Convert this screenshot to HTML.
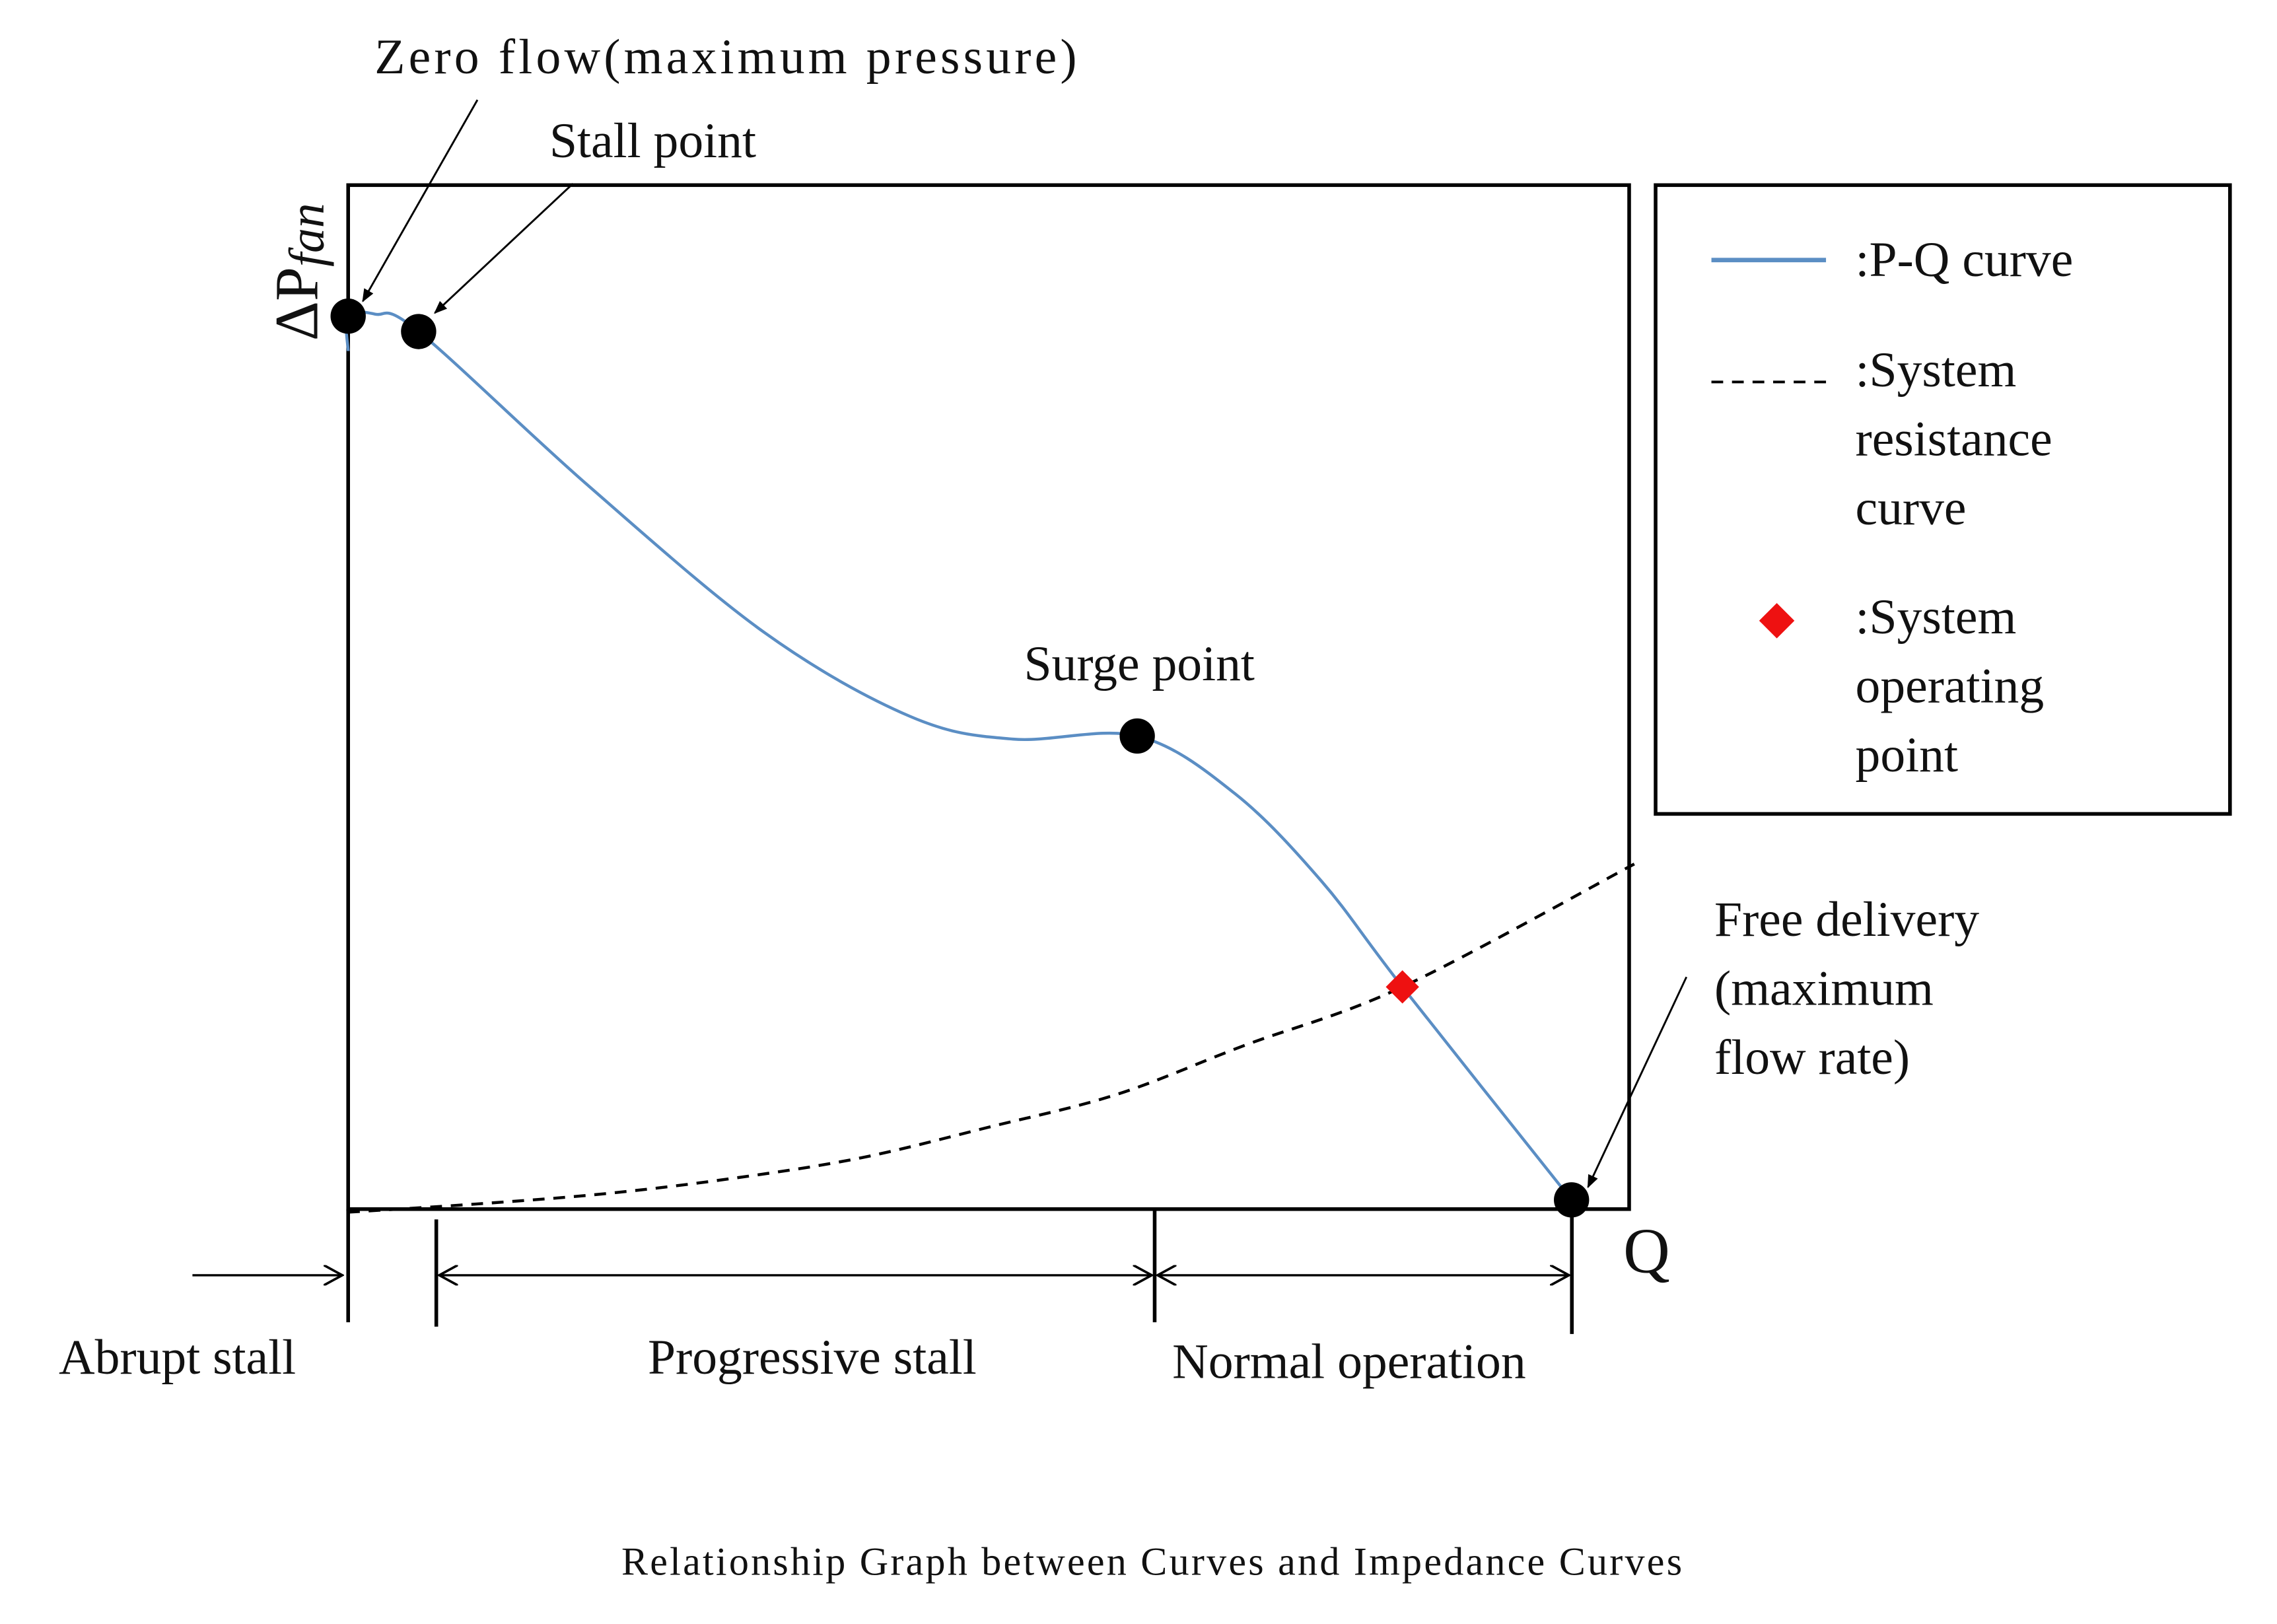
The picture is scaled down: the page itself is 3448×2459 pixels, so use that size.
<!DOCTYPE html>
<html><head><meta charset="utf-8"><style>
html,body{margin:0;padding:0;background:#fff;}
svg{display:block;}
text{font-family:"Liberation Serif",serif;fill:#111;}
</style></head><body>
<svg id="chart" width="3448" height="2459" viewBox="0 0 1550 1105.4" preserveAspectRatio="none" xmlns="http://www.w3.org/2000/svg">
<defs>
<marker id="ah" viewBox="0 0 10 10" refX="9" refY="5" markerWidth="9" markerHeight="9" orient="auto-start-reverse" markerUnits="userSpaceOnUse"><path d="M0,1 L10,5 L0,9 z" fill="#000"/></marker>
<marker id="ao" viewBox="0 0 12 12" refX="11" refY="6" markerWidth="14" markerHeight="14" orient="auto-start-reverse" markerUnits="userSpaceOnUse"><path d="M0,0 L11,6 L0,12" fill="none" stroke="#000" stroke-width="1.4"/></marker>
</defs>
<rect x="237" y="126" width="872" height="697" fill="none" stroke="#000" stroke-width="2.5"/>
<g id="marks"></g>
<g>
<rect x="1127" y="126" width="391" height="428" fill="none" stroke="#000" stroke-width="2.5"/>
<line x1="1165" y1="177" x2="1243" y2="177" stroke="#5b8ec4" stroke-width="3"/>
<text x="1263" y="188" font-size="34">:P-Q curve</text>
<line x1="1165" y1="260" x2="1243" y2="260" stroke="#000" stroke-width="1.8" stroke-dasharray="8,6"/>
<text x="1263" y="263" font-size="34">:System</text>
<text x="1263" y="310" font-size="34">resistance</text>
<text x="1263" y="357" font-size="34">curve</text>
<rect x="1201" y="414" width="17" height="17" fill="#ee1111" transform="rotate(45 1209.5 422.5)"/>
<text x="1263" y="431" font-size="34">:System</text>
<text x="1263" y="478" font-size="34">operating</text>
<text x="1263" y="525" font-size="34">point</text>
</g>
<text x="255" y="50" font-size="34" textLength="478">Zero flow(maximum pressure)</text>
<line x1="325" y1="68" x2="247" y2="205" stroke="#000" stroke-width="1.3" marker-end="url(#ah)"/>
<text x="374" y="107" font-size="34">Stall point</text>
<line x1="390" y1="125" x2="296" y2="213" stroke="#000" stroke-width="1.3" marker-end="url(#ah)"/>
<text transform="translate(216,232) rotate(-90)" font-size="42">ΔP<tspan font-style="italic" font-size="34" dy="4">fan</tspan></text>
<text x="697" y="463" font-size="34">Surge point</text>
<text x="1167" y="637" font-size="34">Free delivery</text>
<text x="1167" y="684" font-size="34">(maximum</text>
<text x="1167" y="731" font-size="34">flow rate)</text>
<line x1="1148" y1="665" x2="1081" y2="808" stroke="#000" stroke-width="1.3" marker-end="url(#ah)"/>
<text x="1105" y="866" font-size="44">Q</text>
<g stroke="#000" stroke-width="2.5">
<line x1="237" y1="823" x2="237" y2="900"/>
<line x1="297" y1="830" x2="297" y2="903"/>
<line x1="786" y1="823" x2="786" y2="900"/>
<line x1="1070" y1="823" x2="1070" y2="908"/>
</g>
<line x1="131" y1="868" x2="233" y2="868" stroke="#000" stroke-width="1.5" marker-end="url(#ao)"/>
<line x1="299" y1="868" x2="784" y2="868" stroke="#000" stroke-width="1.5" marker-start="url(#ao)" marker-end="url(#ao)"/>
<line x1="788" y1="868" x2="1068" y2="868" stroke="#000" stroke-width="1.5" marker-start="url(#ao)" marker-end="url(#ao)"/>
<text x="40" y="935" font-size="34">Abrupt stall</text>
<text x="441" y="935" font-size="34">Progressive stall</text>
<text x="798" y="938" font-size="34">Normal operation</text>
<text x="423" y="1072" font-size="27" textLength="722">Relationship Graph between Curves and Impedance Curves</text>
</svg>
<script>
const pqFlow = [0, 0, 2.1, 5.5, 18.7, 32.5, 43.9, 51.9, 61.6, 69.2, 76.0, 82.3, 95.5];
const pqPressure = [83.8, 87.2, 87.4, 85.7, 70.7, 56.3, 48.1, 45.9, 46.2, 40.6, 32.0, 21.7, 0.9];
const sysFlow = [0, 10, 20, 30, 40, 50, 60, 70, 82.3, 100.4];
const sysPressure = [-0.3, 0.5, 1.5, 3, 5, 8, 11.2, 16, 21.7, 33.7];
const keyFlow = [0, 5.5, 61.6, 95.5];
const keyPressure = [87.2, 85.7, 46.2, 0.9];
const opFlow = [82.3];
const opPressure = [21.7];

const X0 = 237, X1 = 1109, Y0 = 823, Y1 = 126;
function xs(v){ return X0 + (v/100)*(X1-X0); }
function ys(v){ return Y0 - (v/100)*(Y0-Y1); }
function smooth(xv, yv){
  const p = xv.map((x,i)=>[xs(x), ys(yv[i])]);
  let d = 'M' + p[0][0] + ',' + p[0][1];
  for(let i=0;i<p.length-1;i++){
    const a=p[Math.max(0,i-1)], b=p[i], c=p[i+1], e=p[Math.min(p.length-1,i+2)];
    const c1=[b[0]+(c[0]-a[0])/6, b[1]+(c[1]-a[1])/6];
    const c2=[c[0]-(e[0]-b[0])/6, c[1]-(e[1]-b[1])/6];
    d += ' C'+c1[0]+','+c1[1]+' '+c2[0]+','+c2[1]+' '+c[0]+','+c[1];
  }
  return d;
}
const NS='http://www.w3.org/2000/svg';
const g=document.getElementById('marks');
const sys=document.createElementNS(NS,'path');


sys.setAttribute('d', smooth(sysFlow, sysPressure));
sys.setAttribute('fill','none'); sys.setAttribute('stroke','#000');
sys.setAttribute('stroke-width','2'); sys.setAttribute('stroke-dasharray','8,6');
g.appendChild(sys);
const pq=document.createElementNS(NS,'path');


pq.setAttribute('d', smooth(pqFlow, pqPressure));
pq.setAttribute('fill','none'); pq.setAttribute('stroke','#5b8ec4'); pq.setAttribute('stroke-width','2');
g.appendChild(pq);
keyFlow.forEach((f,i)=>{
  const c=document.createElementNS(NS,'circle');
  
  
  c.setAttribute('cx', xs(f)); c.setAttribute('cy', ys(keyPressure[i]));
  c.setAttribute('r','12'); c.setAttribute('fill','#000');
  g.appendChild(c);
});
opFlow.forEach((f,i)=>{
  const cx=xs(f), cy=ys(opPressure[i]);
  const r=document.createElementNS(NS,'rect');
  
  
  r.setAttribute('x', cx-8); r.setAttribute('y', cy-8);
  r.setAttribute('width','16'); r.setAttribute('height','16'); r.setAttribute('fill','#ee1111');
  r.setAttribute('transform','rotate(45 '+cx+' '+cy+')');
  g.appendChild(r);
});
</script>
</body></html>
